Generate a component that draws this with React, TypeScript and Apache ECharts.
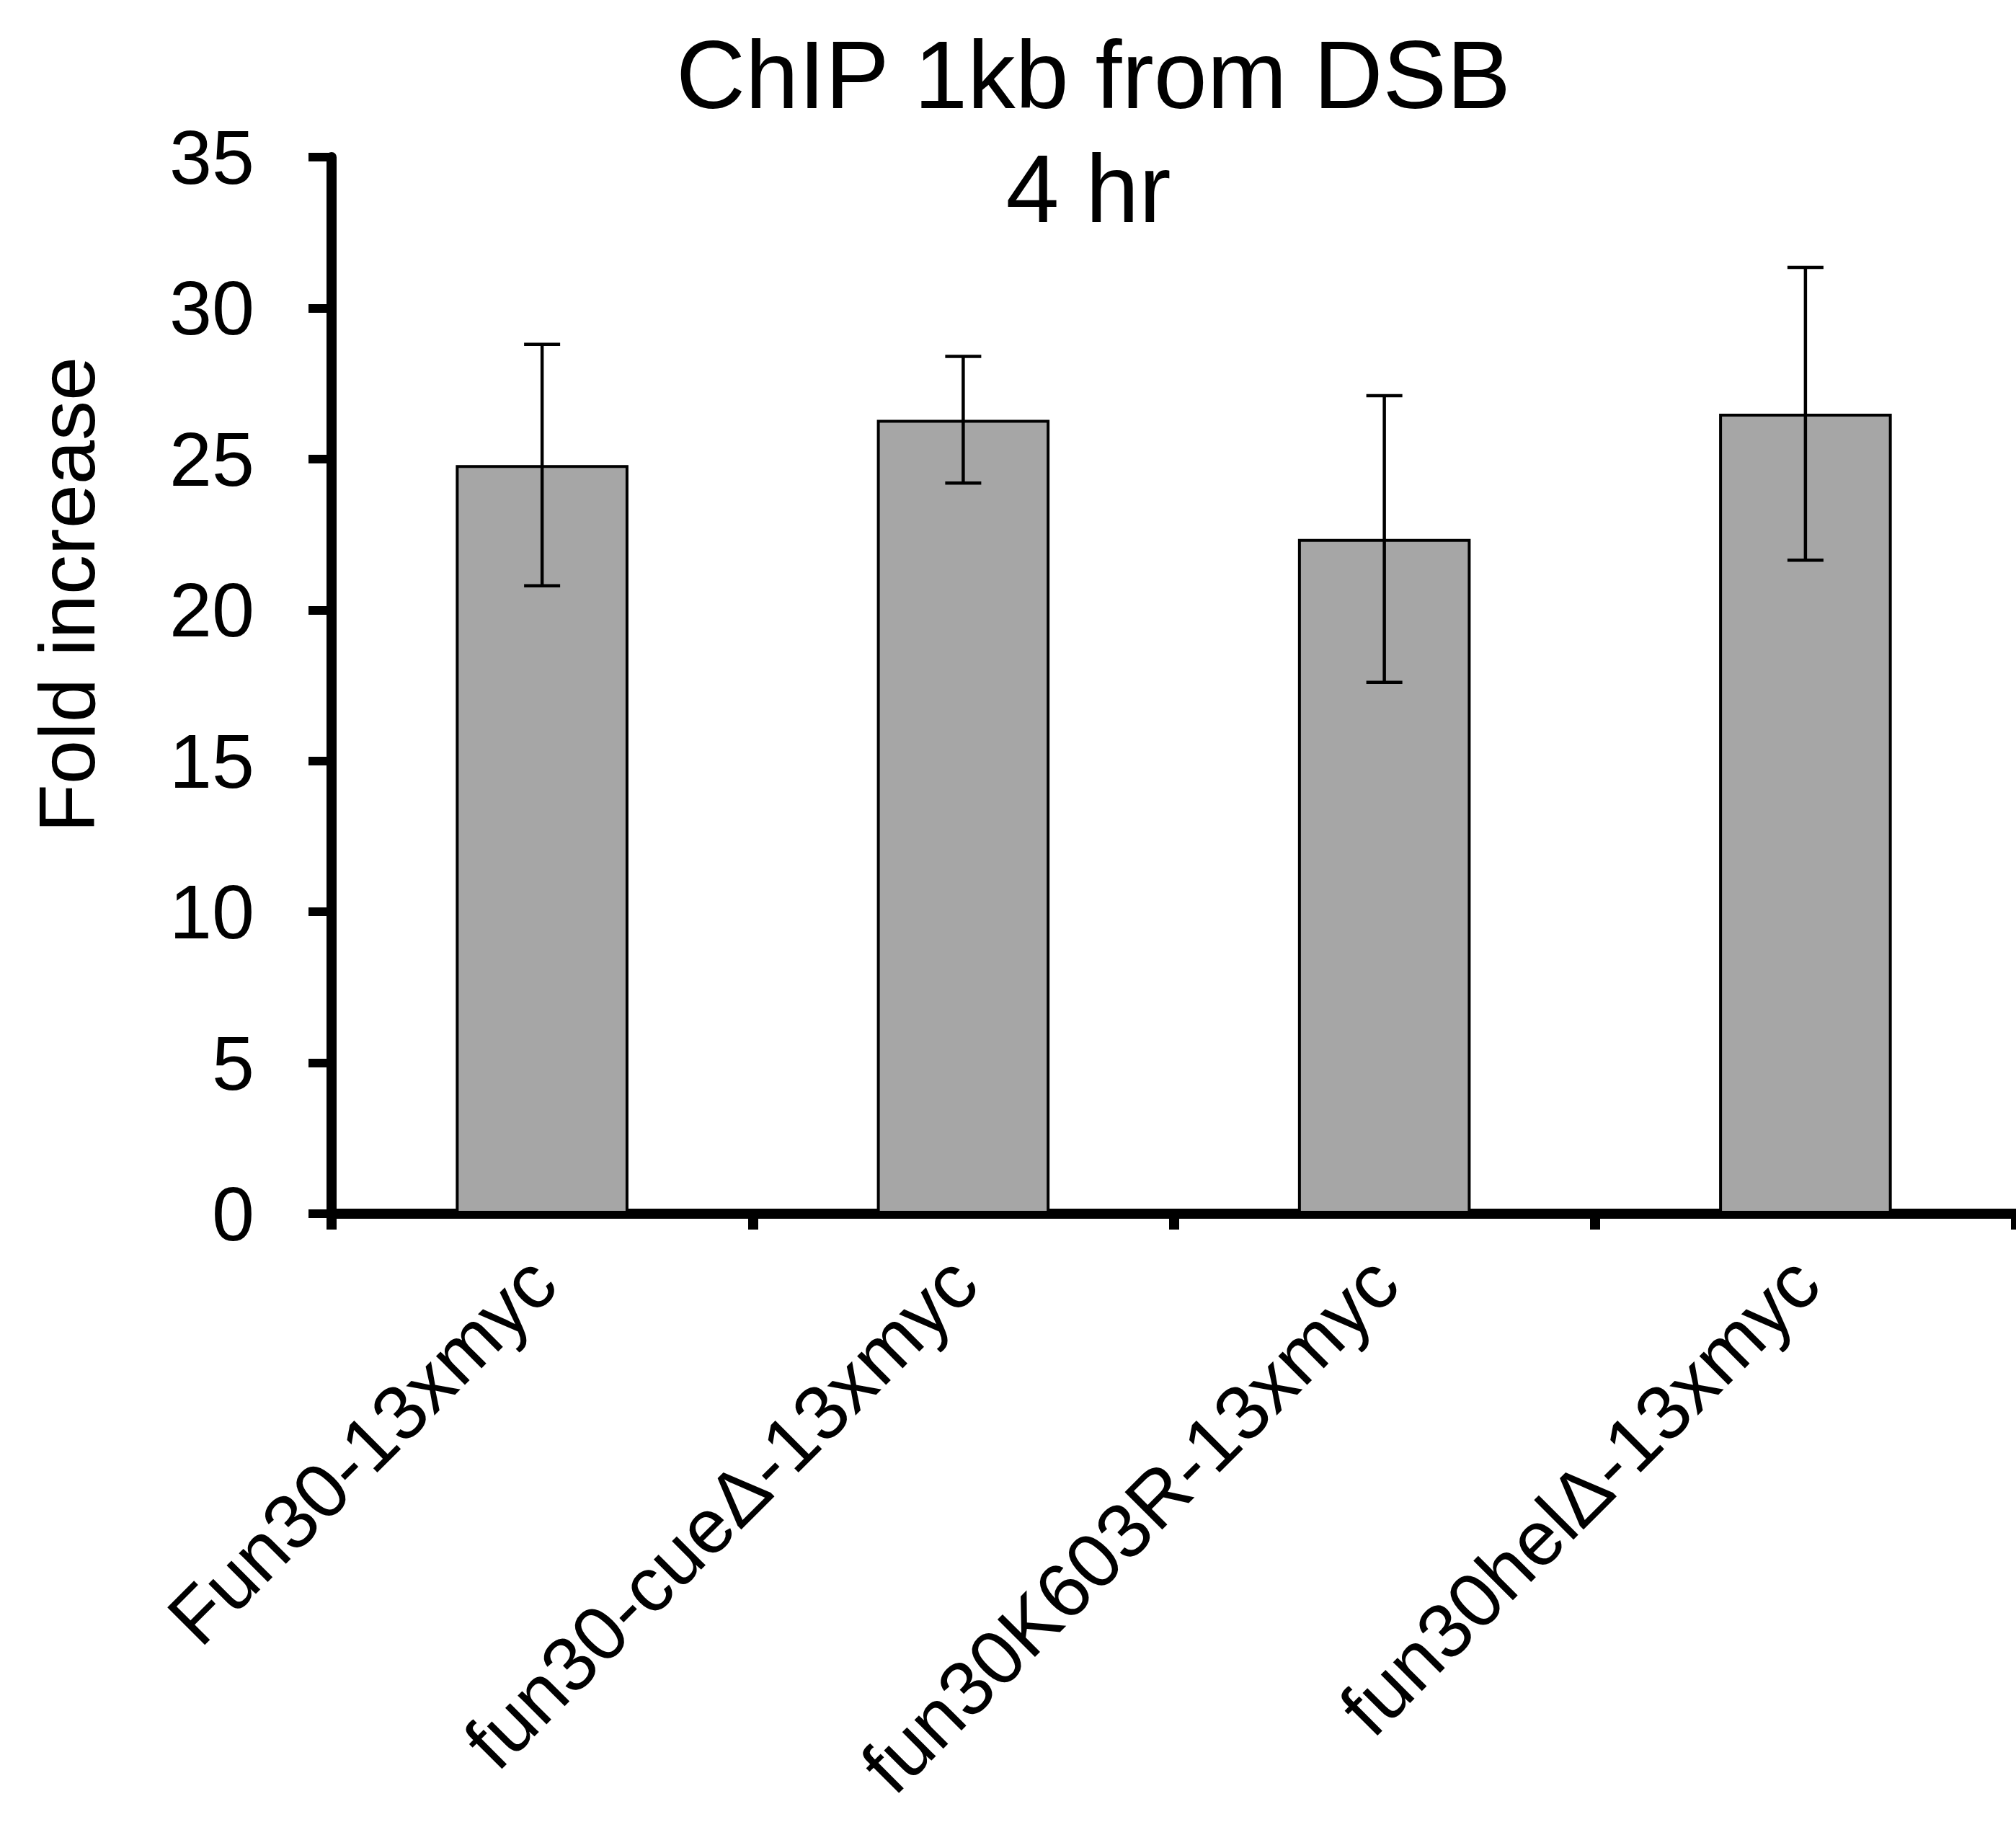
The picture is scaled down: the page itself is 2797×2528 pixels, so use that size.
import React, { useEffect, useRef } from "react";
import * as echarts from "echarts";

const categories = [
  "Fun30-13xmyc",
  "fun30-cue\u0394-13xmyc",
  "fun30K603R-13xmyc",
  "fun30hel\u0394-13xmyc",
];
const means = [24.8, 26.3, 22.35, 26.5];
const errors = [4.0, 2.1, 4.75, 4.85];
const yTicks = { min: 0, max: 35, interval: 5 };
const titleLines = ["ChIP 1kb from DSB", "4 hr"];
const yName = "Fold increase";

const FONT = "'Liberation Sans', Arial, Helvetica, sans-serif";

export default function App() {
  const ref = useRef<HTMLDivElement>(null);
  useEffect(() => {
    if (!ref.current) return;
    const chart = echarts.init(ref.current, null, { renderer: "svg" });
    const errData = categories.map((c, i) => [i, means[i] - errors[i], means[i] + errors[i]]);
    chart.setOption({
      animation: false,
      backgroundColor: "#ffffff",
      textStyle: { fontFamily: FONT },
      grid: { left: 460, top: 218, width: 2362, height: 1466, containLabel: false },
      xAxis: {
        type: "category",
        data: categories,
        boundaryGap: true,
        axisLine: { show: true, lineStyle: { color: "#000", width: 14 } },
        axisTick: { show: true, length: 22, lineStyle: { color: "#000", width: 14 } },
        axisLabel: {
          rotate: 45,
          fontSize: 107,
          margin: 78,
          color: "#000",
          fontFamily: FONT,
          interval: 0,
        },
        splitLine: { show: false },
      },
      yAxis: {
        type: "value",
        min: yTicks.min,
        max: yTicks.max,
        interval: yTicks.interval,
        axisLine: { show: true, lineStyle: { color: "#000", width: 14 } },
        axisTick: { show: true, length: 32, lineStyle: { color: "#000", width: 12 } },
        axisLabel: { fontSize: 106, margin: 107, color: "#000", fontFamily: FONT },
        splitLine: { show: false },
      },
      graphic: [
        {
          type: "text",
          x: 1517,
          y: 104,
          style: {
            text: titleLines[0],
            fontSize: 133,
            fontFamily: FONT,
            fill: "#000",
            textAlign: "center",
            textVerticalAlign: "middle",
            verticalAlign: "middle",
          },
        },
        {
          type: "text",
          x: 1510,
          y: 262,
          style: {
            text: titleLines[1],
            fontSize: 133,
            fontFamily: FONT,
            fill: "#000",
            textAlign: "center",
            textVerticalAlign: "middle",
            verticalAlign: "middle",
          },
        },
        {
          type: "text",
          x: 92,
          y: 825,
          rotation: Math.PI / 2,
          style: {
            text: yName,
            fontSize: 110,
            fontFamily: FONT,
            fill: "#000",
            textAlign: "center",
            textVerticalAlign: "middle",
            verticalAlign: "middle",
          },
        },
      ],
      series: [
        {
          type: "bar",
          data: means,
          barWidth: "41%",
          itemStyle: { color: "#a6a6a6", borderColor: "#000", borderWidth: 4 },
          z: 2,
        },
        {
          type: "custom",
          data: errData,
          z: 5,
          renderItem: (params: any, api: any) => {
            const x = api.value(0);
            const top = api.coord([x, api.value(2)]);
            const bot = api.coord([x, api.value(1)]);
            const hw = 25;
            const st = { stroke: "#000", lineWidth: 4.5 };
            return {
              type: "group",
              children: [
                { type: "line", shape: { x1: top[0], y1: top[1], x2: bot[0], y2: bot[1] }, style: st },
                { type: "line", shape: { x1: top[0] - hw, y1: top[1], x2: top[0] + hw, y2: top[1] }, style: st },
                { type: "line", shape: { x1: bot[0] - hw, y1: bot[1], x2: bot[0] + hw, y2: bot[1] }, style: st },
              ],
            };
          },
        },
      ],
    });
    return () => chart.dispose();
  }, []);
  return (
    <div
      ref={ref}
      style={{ position: "absolute", left: 0, top: 0, width: 2797, height: 2528, overflow: "hidden" }}
    />
  );
}
